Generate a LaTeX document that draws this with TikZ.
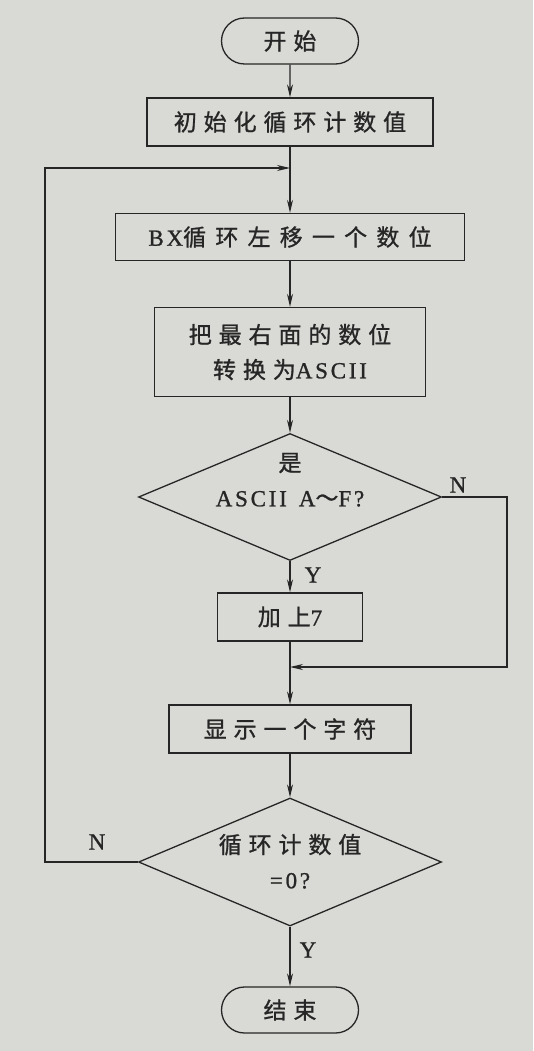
\documentclass[tikz,border=0pt]{standalone}
\usepackage{fontspec}
\setmainfont{Liberation Serif}[LetterSpace=12, FakeBold=1]
\newfontfamily\cjk{Noto Sans CJK SC}[LetterSpace=30, FakeBold=1]
\newfontfamily\cjkwide{Noto Sans CJK SC}[LetterSpace=40, FakeBold=1]
\usepackage{tikz}
\usetikzlibrary{shapes.geometric,shapes.misc,arrows.meta}
\definecolor{colorpaper}{HTML}{D9D9D5}
\definecolor{colorink}{HTML}{262626}
\newcommand{\dectext}[2]{\raisebox{#1}[0pt][0pt]{\makebox[0pt]{\begin{tabular}{@{}c@{}}#2\end{tabular}}}}
\tikzset{
  nodeterm/.style={draw, rounded rectangle, minimum width=137pt, minimum height=46pt, inner sep=0pt},
  nodeproc/.style={draw, rectangle, inner sep=0pt},
  nodedec/.style={draw, diamond, inner sep=0pt, minimum width=303pt, minimum height=127pt},
  edgeflow/.style={-{Stealth[length=13pt,width=6pt]}},
  edgeline/.style={-}
}

\begin{document}
\begin{tikzpicture}[x=1pt, y=-1pt, line width=1.3pt, colorink, font=\fontsize{23}{35}\selectfont]
\fill[colorpaper] (0,0) rectangle (533,1051);
\useasboundingbox (0,0) rectangle (533,1051);
% boxes
\node[nodeterm] (start) at (290,41) {\cjk 开始};
\node[nodeproc, minimum width=286pt, minimum height=48pt] (init) at (290,122) {\cjk 初始化循环计数值};
\node[nodeproc, minimum width=349pt, minimum height=47pt] (shift) at (290,237) {BX{\cjkwide 循环左移一个数位}};
\node[nodeproc, minimum width=271pt, minimum height=89pt, align=center] (conv) at (290,352) {{\cjk 把最右面的数位}\\{\cjk 转换为}ASCII};
\node[nodedec] (dec1) at (290,497) {\dectext{9pt}{{\cjk 是}\\ASCII\hspace{12pt}A{\cjk ～}F?}};
\node[nodeproc, minimum width=145pt, minimum height=48pt] (add7) at (290,617) {{\cjk 加上}7};
\node[nodeproc, minimum width=242pt, minimum height=48pt] (show) at (290,729) {\cjk 显示一个字符};
\node[nodedec, minimum height=128pt] (dec2) at (290,862) {\dectext{-8pt}{{\cjk 循环计数值}\\=0?}};
\node[nodeterm] (end) at (290,1010) {\cjk 结束};
% labels
\node (lbln1) at (458,485) {N};
\node (lbly1) at (313,575) {Y};
\node (lbln2) at (97,842) {N};
\node (lbly2) at (308,950) {Y};
% corners
\coordinate (loopin) at (290,168);
\coordinate (merge) at (290,667);
\coordinate (rightcol) at (507,667);
\coordinate (leftcol) at (45,168);
% flow
\draw[edgeflow] (start) -- (init);
\draw[edgeline] (init) -- (loopin);
\draw[edgeflow] (loopin) -- (shift);
\draw[edgeflow] (shift) -- (conv);
\draw[edgeflow] (conv) -- (dec1);
\draw[edgeflow] (dec1) -- (add7);
\draw[edgeline] (add7) -- (merge);
\draw[edgeflow] (merge) -- (show);
\draw[edgeflow] (dec1.east) -- (dec1.east -| rightcol) |- (merge);
\draw[edgeflow] (show) -- (dec2);
\draw[edgeflow] (dec2) -- (end);
\draw[edgeflow] (dec2.west) -| (leftcol) -- (loopin);
\end{tikzpicture}
\end{document}
